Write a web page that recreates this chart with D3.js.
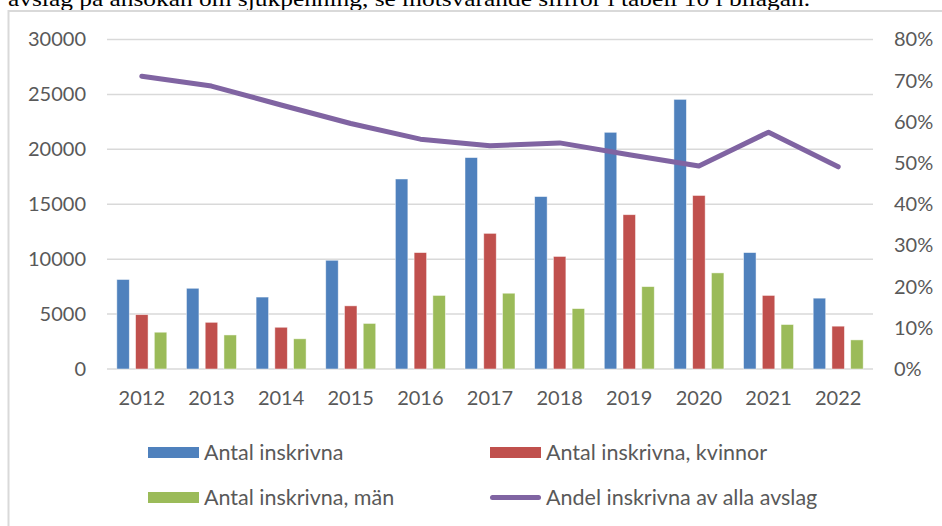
<!DOCTYPE html>
<html>
<head>
<meta charset="utf-8">
<script src="https://cdn.jsdelivr.net/npm/d3@7"></script>
<style>
    body { margin: 0; background: white; }
    svg { display: block; }
</style>
</head>
<body>
<div id="ChartContainer"></div>
<script>
const Years = ["2012", "2013", "2014", "2015", "2016", "2017", "2018", "2019", "2020", "2021", "2022"];
const SeriesNames = ["Antal inskrivna", "Antal inskrivna, kvinnor", "Antal inskrivna, män"];
const LineName = "Andel inskrivna av alla avslag";
const Total = [8150, 7350, 6550, 9900, 17300, 19250, 15700, 21550, 24550, 10600, 6450];
const Women = [4950, 4250, 3800, 5750, 10600, 12350, 10250, 14050, 15800, 6700, 3900];
const Men = [3350, 3100, 2750, 4150, 6700, 6900, 5500, 7500, 8750, 4050, 2650];
const Share = [0.711, 0.687, 0.641, 0.596, 0.558, 0.542, 0.549, 0.520, 0.493, 0.575, 0.491];
const LeftTicks = [0, 5000, 10000, 15000, 20000, 25000, 30000];
const RightTicks = [0, 0.1, 0.2, 0.3, 0.4, 0.5, 0.6, 0.7, 0.8];
const CaptionText = "avslag på ansökan om sjukpenning, se motsvarande siffror i tabell 10 i bilagan.";

const ColorMap = {};
ColorMap[SeriesNames[0]] = "#4F81BD";
ColorMap[SeriesNames[1]] = "#C0504D";
ColorMap[SeriesNames[2]] = "#9BBB59";
ColorMap[LineName] = "#8064A2";

function DrawChart()
{
    const Width = 942;
    const Height = 526;
    const Plot = { left: 107, right: 873, top: 39.5, bottom: 369 };
    const AxisFont = "Lato, 'Liberation Sans', sans-serif";
    const TextGray = "#595959";
    const GridGray = "#d9d9d9";

    const Svg = d3.select('#ChartContainer')
                  .append('svg')
                  .attr('width', Width)
                  .attr('height', Height);

    // text from the page above the chart, cut by the crop like in the source
    Svg.append('text')
       .attr('x', 8)
       .attr('y', 6)
       .attr('textLength', 802)
       .attr('lengthAdjust', 'spacingAndGlyphs')
       .style('font-family', "'Liberation Serif', serif")
       .style('font-size', '22px')
       .attr('fill', '#000')
       .text(CaptionText);

    // chart frame, runs past the right and bottom edges
    Svg.append('rect')
       .attr('x', 8.5)
       .attr('y', 11)
       .attr('width', Width + 20)
       .attr('height', Height + 20)
       .attr('fill', 'white')
       .attr('stroke', GridGray)
       .attr('stroke-width', 2);

    const xScale = d3.scaleBand()
                     .domain(Years)
                     .range([Plot.left, Plot.right]);
    const GroupWidth = 50;
    const xInner = d3.scaleBand()
                     .domain(SeriesNames)
                     .range([0, GroupWidth])
                     .paddingInner(1 / 3);
    const yLeft = d3.scaleLinear()
                    .domain([0, 30000])
                    .range([Plot.bottom, Plot.top]);
    const yRight = d3.scaleLinear()
                     .domain([0, 0.8])
                     .range([Plot.bottom, Plot.top]);

    // gridlines
    Svg.append('g')
       .selectAll('line')
       .data(LeftTicks)
       .enter()
       .append('line')
       .attr('x1', Plot.left)
       .attr('x2', Plot.right)
       .attr('y1', d => yLeft(d))
       .attr('y2', d => yLeft(d))
       .attr('stroke', GridGray)
       .attr('stroke-width', 1.5);

    // left axis
    const LeftAxis = Svg.append('g')
                        .attr('transform', `translate(${Plot.left - 21}, 0)`)
                        .call(d3.axisLeft(yLeft).tickValues(LeftTicks).tickSize(0).tickPadding(0).tickFormat(d3.format('d')));
    LeftAxis.select('.domain').remove();
    LeftAxis.selectAll('text')
            .style('font-family', AxisFont)
            .style('font-size', '20px')
            .attr('fill', TextGray);

    // right axis
    const RightAxis = Svg.append('g')
                         .attr('transform', `translate(${Plot.right + 21}, 0)`)
                         .call(d3.axisRight(yRight).tickValues(RightTicks).tickSize(0).tickPadding(0).tickFormat(d3.format('.0%')));
    RightAxis.select('.domain').remove();
    RightAxis.selectAll('text')
             .style('font-family', AxisFont)
             .style('font-size', '20px')
             .attr('fill', TextGray);

    // x axis labels
    const BottomAxis = Svg.append('g')
                          .attr('transform', `translate(0, ${Plot.bottom + 22})`)
                          .call(d3.axisBottom(xScale).tickSize(0).tickPadding(0));
    BottomAxis.select('.domain').remove();
    BottomAxis.selectAll('text')
              .style('font-family', AxisFont)
              .style('font-size', '20px')
              .attr('fill', TextGray);

    // bars
    const BarData = Years.map((Year, i) =>
    ({
        Year: Year,
        Values: [
            { Name: SeriesNames[0], Value: Total[i] },
            { Name: SeriesNames[1], Value: Women[i] },
            { Name: SeriesNames[2], Value: Men[i] }
        ]
    }));
    BarData.forEach(Group =>
    {
        const GroupX = xScale(Group.Year) + (xScale.bandwidth() - GroupWidth) / 2;
        Svg.append('g')
           .attr('transform', `translate(${GroupX}, 0)`)
           .selectAll('rect')
           .data(Group.Values)
           .enter()
           .append('rect')
           .attr('x', d => xInner(d.Name))
           .attr('y', d => yLeft(d.Value))
           .attr('width', xInner.bandwidth())
           .attr('height', d => yLeft(0) - yLeft(d.Value))
           .attr('fill', d => ColorMap[d.Name])
           .attr('stroke', 'rgba(255,255,255,0.6)')
           .attr('stroke-width', 0.8);
    });

    // share line on the right axis
    const Line = d3.line()
                   .x((d, i) => xScale(Years[i]) + xScale.bandwidth() / 2)
                   .y(d => yRight(d));
    Svg.append('path')
       .datum(Share)
       .attr('d', Line)
       .attr('fill', 'none')
       .attr('stroke', ColorMap[LineName])
       .attr('stroke-width', 5)
       .attr('stroke-linecap', 'round')
       .attr('stroke-linejoin', 'round');

    // legend, two rows of two
    const LegendItems = [
        { Name: SeriesNames[0], x: 148, y: 452.5, Kind: 'rect' },
        { Name: SeriesNames[1], x: 490, y: 452.5, Kind: 'rect' },
        { Name: SeriesNames[2], x: 148, y: 497.5, Kind: 'rect' },
        { Name: LineName, x: 490, y: 497.5, Kind: 'line' }
    ];
    LegendItems.forEach(Item =>
    {
        const Entry = Svg.append('g')
                         .attr('transform', `translate(${Item.x}, ${Item.y})`);
        if (Item.Kind === 'rect')
        {
            Entry.append('rect')
                 .attr('x', 0)
                 .attr('y', -5.5)
                 .attr('width', 51)
                 .attr('height', 11)
                 .attr('fill', ColorMap[Item.Name]);
        }
        else
        {
            Entry.append('line')
                 .attr('x1', 2.5)
                 .attr('x2', 48.5)
                 .attr('y1', 0)
                 .attr('y2', 0)
                 .attr('stroke', ColorMap[Item.Name])
                 .attr('stroke-width', 5)
                 .attr('stroke-linecap', 'round');
        }
        Entry.append('text')
             .attr('x', 56)
             .attr('y', 0)
             .attr('dy', '0.35em')
             .style('font-family', AxisFont)
             .style('font-size', '21.5px')
             .attr('fill', TextGray)
             .text(Item.Name);
    });
}

document.addEventListener('DOMContentLoaded', function()
{
    DrawChart();
});
</script>
</body>
</html>
